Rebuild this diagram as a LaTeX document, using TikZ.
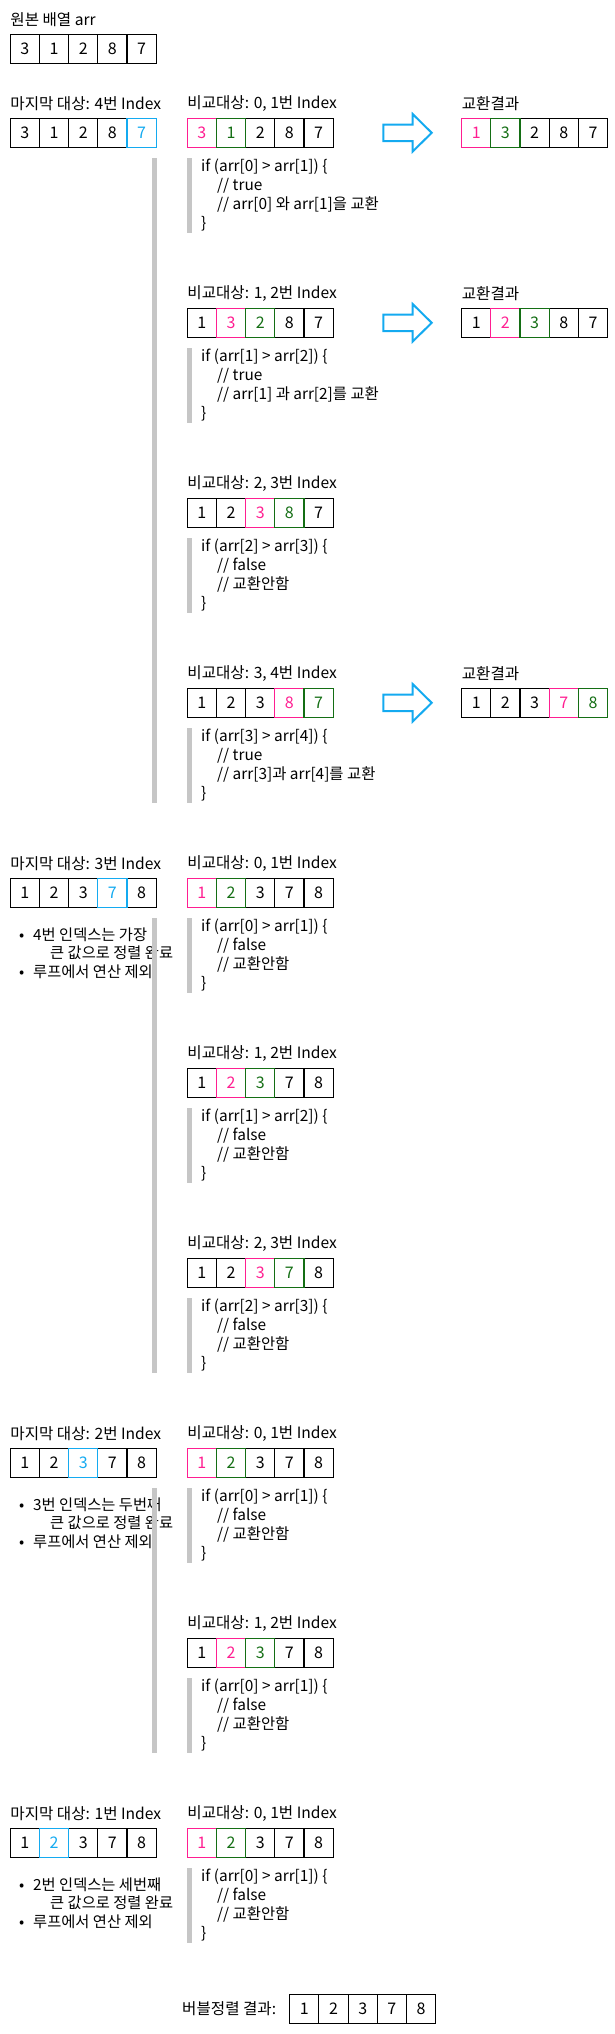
\documentclass[tikz,border=0pt]{standalone}
\usepackage{fontspec}
\setmainfont{Noto Sans CJK KR}
\definecolor{pk}{RGB}{255,30,145}
\definecolor{gn}{RGB}{20,110,20}
\definecolor{cy}{RGB}{20,170,240}
\definecolor{barc}{RGB}{198,198,198}
\tikzset{
  cell/.style={rectangle, minimum width=29.2pt, minimum height=29pt, inner sep=0pt, outer sep=0pt,
    line width=1.1pt, font=\fontsize{16pt}{19pt}\selectfont},
  lbl/.style={anchor=west, inner sep=0pt, font=\fontsize{15.6pt}{19pt}\selectfont},
  code/.style={anchor=base west, inner sep=0pt, font=\fontsize{15.4pt}{19pt}\selectfont},
  btxt/.style={anchor=base west, inner sep=0pt, font=\fontsize{15.3pt}{19pt}\selectfont},
  bigarrow/.style={draw=cy, line width=2pt, fill=white, line join=miter},
}
\newcommand{\cellrow}[4]{%
  \foreach \i/\v/\c in {#4} {
    \node[cell, draw=\c, text=\c] (#1-\i) at ({#2+14.6+29.2*\i},{#3+14.5}) {\v};
  }}
\newcommand{\codeblk}[5]{%
  \fill[barc] (187,#2) rectangle (192,{#2+75});
  \node[code] (#1-1) at (201,{#2+13}) {#3};
  \node[code] (#1-2) at (217,{#2+32}) {#4};
  \node[code] (#1-3) at (217,{#2+51}) {#5};
  \node[code] (#1-4) at (201,{#2+70}) {\}};
}
\newcommand{\barrow}[2]{%
  \coordinate (#1) at (383.3,#2);
  \draw[bigarrow] (#1) ++(0,-8.3) -- ++(29.4,0) -- ++(0,-10.4) -- ++(19,18.7)
     -- ++(-19,18.7) -- ++(0,-10.4) -- ++(-29.4,0) -- cycle;
}
\newcommand{\bulletlist}[4]{%
  \node[btxt] (#1-d1) at (19,#2) {•};
  \node[btxt] (#1-t1) at (33,#2) {#3};
  \node[btxt] (#1-t2) at (50,{#2+18.5}) {#4};
  \node[btxt] (#1-d2) at (19,{#2+37.5}) {•};
  \node[btxt] (#1-t3) at (33,{#2+37.5}) {루프에서 연산 제외};
}
\begin{document}
\begin{tikzpicture}[x=1pt,y=-1pt]
\useasboundingbox (0,0) rectangle (615,2034);
% original
\node[lbl] (olbl) at (10.2,20) {원본 배열 arr};
\cellrow{o}{10.2}{34.3}{0/3/black,1/1/black,2/2/black,3/8/black,4/7/black}
% ===== Section 1 =====
\node[lbl] (s1lbl) at (10.2,103.8) {마지막 대상: 4번 Index};
\cellrow{s1a}{10.2}{118.3}{0/3/black,1/1/black,2/2/black,3/8/black,4/7/cy}
\fill[barc] (151.8,158.3) rectangle (156.8,803.3);
% row 1
\node[lbl] (s1r1lbl) at (187.2,103.8) {비교대상: 0, 1번 Index};
\cellrow{s1b1}{187.2}{118.3}{2/2/black,3/8/black,4/7/black,0/3/pk,1/1/gn}
\codeblk{s1k1}{158.3}{if (arr[0] > arr[1]) \{}{// true}{// arr[0] 와 arr[1]을 교환}
\barrow{s1w1}{132.8}
\node[lbl] (s1r1res) at (461.6,103.8) {교환결과};
\cellrow{s1c1}{461.6}{118.3}{2/2/black,3/8/black,4/7/black,0/1/pk,1/3/gn}
% row 2
\node[lbl] (s1r2lbl) at (187.2,293.8) {비교대상: 1, 2번 Index};
\cellrow{s1b2}{187.2}{308.3}{0/1/black,3/8/black,4/7/black,1/3/pk,2/2/gn}
\codeblk{s1k2}{348.3}{if (arr[1] > arr[2]) \{}{// true}{// arr[1] 과 arr[2]를 교환}
\barrow{s1w2}{322.8}
\node[lbl] (s1r2res) at (461.6,293.8) {교환결과};
\cellrow{s1c2}{461.6}{308.3}{0/1/black,3/8/black,4/7/black,1/2/pk,2/3/gn}
% row 3
\node[lbl] (s1r3lbl) at (187.2,483.8) {비교대상: 2, 3번 Index};
\cellrow{s1b3}{187.2}{498.3}{0/1/black,1/2/black,4/7/black,2/3/pk,3/8/gn}
\codeblk{s1k3}{538.3}{if (arr[2] > arr[3]) \{}{// false}{// 교환안함}
% row 4
\node[lbl] (s1r4lbl) at (187.2,673.8) {비교대상: 3, 4번 Index};
\cellrow{s1b4}{187.2}{688.3}{0/1/black,1/2/black,2/3/black,3/8/pk,4/7/gn}
\codeblk{s1k4}{728.3}{if (arr[3] > arr[4]) \{}{// true}{// arr[3]과 arr[4]를 교환}
\barrow{s1w4}{702.8}
\node[lbl] (s1r4res) at (461.6,673.8) {교환결과};
\cellrow{s1c4}{461.6}{688.3}{0/1/black,1/2/black,2/3/black,3/7/pk,4/8/gn}
% ===== Section 2 =====
\node[lbl] (s2lbl) at (10.2,863.8) {마지막 대상: 3번 Index};
\cellrow{s2a}{10.2}{878.3}{0/1/black,1/2/black,2/3/black,4/8/black,3/7/cy}
\bulletlist{s2b}{940}{4번 인덱스는 가장}{큰 값으로 정렬 완료}
\fill[barc] (151.8,918.3) rectangle (156.8,1373.3);
\node[lbl] (s2r1lbl) at (187.2,863.8) {비교대상: 0, 1번 Index};
\cellrow{s2b1}{187.2}{878.3}{2/3/black,3/7/black,4/8/black,0/1/pk,1/2/gn}
\codeblk{s2k1}{918.3}{if (arr[0] > arr[1]) \{}{// false}{// 교환안함}
\node[lbl] (s2r2lbl) at (187.2,1053.8) {비교대상: 1, 2번 Index};
\cellrow{s2b2}{187.2}{1068.3}{0/1/black,3/7/black,4/8/black,1/2/pk,2/3/gn}
\codeblk{s2k2}{1108.3}{if (arr[1] > arr[2]) \{}{// false}{// 교환안함}
\node[lbl] (s2r3lbl) at (187.2,1243.8) {비교대상: 2, 3번 Index};
\cellrow{s2b3}{187.2}{1258.3}{0/1/black,1/2/black,4/8/black,2/3/pk,3/7/gn}
\codeblk{s2k3}{1298.3}{if (arr[2] > arr[3]) \{}{// false}{// 교환안함}
% ===== Section 3 =====
\node[lbl] (s3lbl) at (10.2,1433.8) {마지막 대상: 2번 Index};
\cellrow{s3a}{10.2}{1448.3}{0/1/black,1/2/black,3/7/black,4/8/black,2/3/cy}
\bulletlist{s3b}{1510}{3번 인덱스는 두번째}{큰 값으로 정렬 완료}
\fill[barc] (151.8,1488.3) rectangle (156.8,1753.3);
\node[lbl] (s3r1lbl) at (187.2,1433.8) {비교대상: 0, 1번 Index};
\cellrow{s3b1}{187.2}{1448.3}{2/3/black,3/7/black,4/8/black,0/1/pk,1/2/gn}
\codeblk{s3k1}{1488.3}{if (arr[0] > arr[1]) \{}{// false}{// 교환안함}
\node[lbl] (s3r2lbl) at (187.2,1623.8) {비교대상: 1, 2번 Index};
\cellrow{s3b2}{187.2}{1638.3}{0/1/black,3/7/black,4/8/black,1/2/pk,2/3/gn}
\codeblk{s3k2}{1678.3}{if (arr[0] > arr[1]) \{}{// false}{// 교환안함}
% ===== Section 4 =====
\node[lbl] (s4lbl) at (10.2,1813.8) {마지막 대상: 1번 Index};
\cellrow{s4a}{10.2}{1828.3}{0/1/black,2/3/black,3/7/black,4/8/black,1/2/cy}
\bulletlist{s4b}{1890}{2번 인덱스는 세번째}{큰 값으로 정렬 완료}
\node[lbl] (s4r1lbl) at (187.2,1813.8) {비교대상: 0, 1번 Index};
\cellrow{s4b1}{187.2}{1828.3}{2/3/black,3/7/black,4/8/black,0/1/pk,1/2/gn}
\codeblk{s4k1}{1868.3}{if (arr[0] > arr[1]) \{}{// false}{// 교환안함}
% final
\node[lbl] (finlbl) at (182,2008.3) {버블정렬 결과:};
\cellrow{fin}{289.7}{1994.3}{0/1/black,1/2/black,2/3/black,3/7/black,4/8/black}
\end{tikzpicture}
\end{document}
